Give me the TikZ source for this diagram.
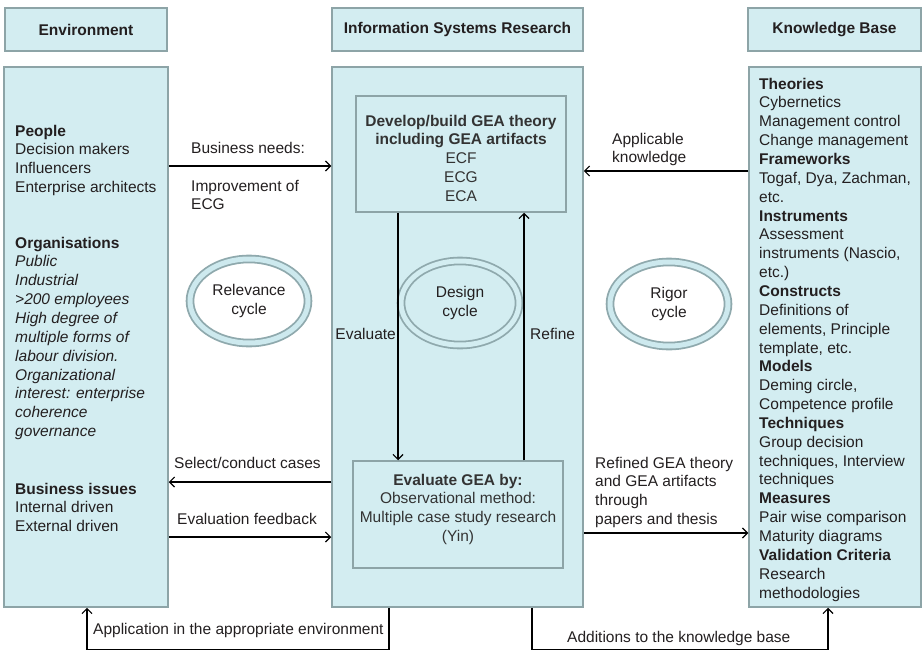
\documentclass[tikz,border=0pt]{standalone}
\usepackage{fontspec}
\setmainfont{Liberation Sans}
\usepackage{tikz}
\usetikzlibrary{arrows.meta,shapes.geometric}

\newcommand{\diagfont}{\fontsize{15.5}{18.85}\selectfont}

\definecolor{boxfill}{HTML}{D3EDF1}
\definecolor{boxline}{HTML}{8DA4A7}
\definecolor{ringfill}{HTML}{CDE9EE}
\definecolor{ringline}{HTML}{8FA9AD}
\definecolor{txt}{HTML}{231F20}
\definecolor{innertxt}{HTML}{333333}

\tikzset{
	panel/.style={draw=boxline, line width=1.5pt, fill=boxfill, inner sep=0pt},
	headbox/.style={panel, minimum height=43pt, font=\diagfont\bfseries, text=txt},
	cycleoval/.style={ellipse, draw=ringline, line width=1.8pt, double=ringfill,
		double distance=5pt, fill=white, minimum width=118pt, minimum height=84pt,
		inner sep=0pt, align=center, text=txt},
	lbl/.style={anchor=north west, inner sep=0pt, align=left, text=txt},
	conn/.style={-{Straight Barb[length=5pt,width=10pt]}, line width=1.2pt},
}

\begin{document}
\begin{tikzpicture}[x=1pt, y=-1pt, font=\diagfont]
	\useasboundingbox (0,0) rectangle (923,650);
	
	% headers
	\node[headbox, minimum width=162pt] (envhead) at (86,29.5) {Environment};
	\node[headbox, minimum width=251pt] (isrhead) at (457.5,29.5) {Information Systems Research};
	\node[headbox, minimum width=173pt] (kbhead) at (834.5,29.5) {Knowledge Base};
	
	% main columns
	\node[panel, minimum width=164pt, minimum height=540pt] (envbox) at (86,337) {};
	\node[panel, minimum width=251pt, minimum height=540pt] (isrbox) at (457.5,337) {};
	\node[panel, minimum width=172pt, minimum height=540pt] (kbbox) at (835,337) {};
	
	% inner boxes of the research column
	\node[panel, minimum width=210pt, minimum height=116pt] (devbox) at (461,154) {};
	\node[panel, minimum width=210pt, minimum height=107pt] (evalbox) at (458,514.5) {};
	\node[lbl, anchor=north, align=center, text=innertxt] (devtext) at (461,114.7)
	{\textbf{Develop/build GEA theory}\\\textbf{including GEA artifacts}\\ECF\\ECG\\ECA};
	\node[lbl, anchor=north, align=center, text=innertxt] (evaltext) at (458,473.7)
	{\textbf{Evaluate GEA by:}\\Observational method:\\Multiple case study research\\(Yin)};
	
	% environment text
	\node[lbl] (people) at (15,124.7)
	{\textbf{People}\\Decision makers\\Influencers\\Enterprise architects};
	\node[lbl] (orgs) at (15,236.7)
	{\textbf{Organisations}\\\textit{Public}\\\textit{Industrial}\\\textit{>200 employees}\\
		\textit{High degree of}\\\textit{multiple forms of}\\\textit{labour division.}\\
		\textit{Organizational}\\\textit{interest: enterprise}\\\textit{coherence}\\\textit{governance}};
	\node[lbl] (issues) at (15,482.7)
	{\textbf{Business issues}\\Internal driven\\External driven};
	
	% knowledge base text
	\node[lbl] (kbtext) at (759,77.7)
	{\textbf{Theories}\\Cybernetics\\Management control\\Change management\\
		\textbf{Frameworks}\\Togaf, Dya, Zachman,\\etc.\\
		\textbf{Instruments}\\Assessment\\instruments (Nascio,\\etc.)\\
		\textbf{Constructs}\\Definitions of\\elements, Principle\\template, etc.\\
		\textbf{Models}\\Deming circle,\\Competence profile\\
		\textbf{Techniques}\\Group decision\\techniques, Interview\\techniques\\
		\textbf{Measures}\\Pair wise comparison\\Maturity diagrams\\
		\textbf{Validation Criteria}\\Research\\methodologies};
	
	% cycles
	\node[cycleoval] (relcycle) at (249,301) {Relevance\\cycle};
	\node[cycleoval, fill=boxfill, double=boxfill] (descycle) at (460,303) {Design\\cycle};
	\node[cycleoval] (rigcycle) at (669,304) {Rigor\\cycle};
	
	% heights and columns of the connectors
	\coordinate (needsy) at (0,166);
	\coordinate (knowy) at (0,171);
	\coordinate (selecty) at (0,482);
	\coordinate (feedy) at (0,537);
	\coordinate (refinedy) at (0,533);
	\coordinate (evalx) at (398,0);
	\coordinate (refx) at (524,0);
	\coordinate (appx) at (389,0);
	\coordinate (envx) at (87,0);
	\coordinate (addx) at (532,0);
	\coordinate (kbx) at (828,0);
	
	% connectors
	\draw[conn] (envbox.east |- needsy) -- (isrbox.west |- needsy);
	\draw[conn] (kbbox.west |- knowy) -- (isrbox.east |- knowy);
	\draw[conn] (isrbox.west |- selecty) -- (envbox.east |- selecty);
	\draw[conn] (envbox.east |- feedy) -- (isrbox.west |- feedy);
	\draw[conn] (isrbox.east |- refinedy) -- (kbbox.west |- refinedy);
	\draw[conn] (devbox.south -| evalx) -- (evalbox.north -| evalx);
	\draw[conn] (evalbox.north -| refx) -- (devbox.south -| refx);
	\draw[conn] (isrbox.south -| appx) -- ++(0,42) -| (envbox.south -| envx);
	\draw[conn] (isrbox.south -| addx) -- ++(0,42) -| (kbbox.south -| kbx);
	
	% connector labels
	\node[lbl] (needslbl) at (191,141.7) {Business needs:};
	\node[lbl] (improvlbl) at (191,179.7) {Improvement of\\ECG};
	\node[lbl] (knowlbl) at (612,132.7) {Applicable\\knowledge};
	\node[lbl] (selectlbl) at (174,456.7) {Select/conduct cases};
	\node[lbl] (feedlbl) at (177,512.7) {Evaluation feedback};
	\node[lbl] (refinedlbl) at (595,456.7)
	{Refined GEA theory\\and GEA artifacts\\through\\papers and thesis};
	\node[lbl, anchor=north east] (evallbl) at (396,327.7) {Evaluate};
	\node[lbl] (reflbl) at (530,327.7) {Refine};
	\node[lbl] (applbl) at (93,622.7) {Application in the appropriate environment};
	\node[lbl] (addlbl) at (567,630.7) {Additions to the knowledge base};
\end{tikzpicture}
\end{document}
